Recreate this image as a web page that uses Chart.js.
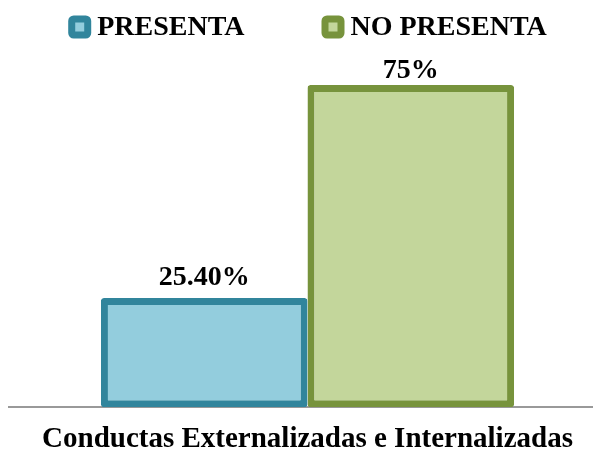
<!DOCTYPE html>
<html>
<head>
<meta charset="utf-8">
<script src="https://cdn.jsdelivr.net/npm/chart.js@4.4.1/dist/chart.umd.min.js"></script>
<style>
  html, body { margin: 0; padding: 0; background: #fff; overflow: hidden; }
</style>
</head>
<body>
<canvas id="bar-chart" width="606" height="453"></canvas>
<script>
// categories and series
const categories = ['Conductas Externalizadas e Internalizadas'];
const seriesNames = ['PRESENTA', 'NO PRESENTA'];
const seriesValues = [[25.40], [75]];
const seriesDecimals = [2, 0];
const fillColors = ['#93CDDD', '#C3D69B'];
const lineColors = ['#31859C', '#77933C'];

const serif = "'Liberation Serif', 'Times New Roman', serif";

// value labels above each bar
const labelGaps = [13, 7];
const barValueLabels = {
  id: 'barValueLabels',
  afterDraw(chart) {
    const ctx = chart.ctx;
    ctx.save();
    ctx.font = 'bold 28px ' + serif;
    ctx.fillStyle = '#000';
    ctx.textAlign = 'center';
    ctx.textBaseline = 'alphabetic';
    chart.data.datasets.forEach((ds, i) => {
      chart.getDatasetMeta(i).data.forEach((bar, j) => {
        const txt = ds.data[j].toFixed(seriesDecimals[i]) + '%';
        ctx.fillText(txt, bar.x, bar.y - labelGaps[i]);
      });
    });
    ctx.restore();
  }
};

// one-row legend across the top
const topLegend = {
  id: 'topLegend',
  afterDraw(chart) {
    const ctx = chart.ctx;
    const box = 16, line = 7, textGap = 6, itemGap = 77, cy = 27;
    ctx.save();
    ctx.font = 'bold 28px ' + serif;
    const items = chart.data.datasets.map(ds => ({
      ds, w: ctx.measureText(ds.label).width
    }));
    const full = box + line;
    let total = items.reduce((s, it) => s + full + textGap + it.w, 0) + itemGap * (items.length - 1);
    const mid = (chart.chartArea.left + chart.chartArea.right) / 2;
    let x = mid - total / 2;
    items.forEach(it => {
      ctx.beginPath();
      ctx.roundRect(x + line / 2, cy - box / 2, box, box, 2);
      ctx.fillStyle = it.ds.backgroundColor;
      ctx.fill();
      ctx.lineWidth = line;
      ctx.strokeStyle = it.ds.borderColor;
      ctx.stroke();
      ctx.fillStyle = '#000';
      ctx.textAlign = 'left';
      ctx.textBaseline = 'middle';
      ctx.fillText(it.ds.label, x + full + textGap, cy + 1);
      x += full + textGap + it.w + itemGap;
    });
    ctx.restore();
  }
};

const ctx = document.getElementById('bar-chart').getContext('2d');
new Chart(ctx, {
  type: 'bar',
  data: {
    labels: categories,
    datasets: seriesNames.map((name, i) => ({
      label: name,
      data: seriesValues[i],
      backgroundColor: fillColors[i],
      borderColor: lineColors[i],
      borderWidth: 7,
      borderRadius: 3,
      borderSkipped: false,
      barPercentage: 1,
      categoryPercentage: 0.692
    }))
  },
  options: {
    responsive: false,
    animation: false,
    layout: {
      padding: { top: 63.6, left: 9, right: 0, bottom: -11 }
    },
    plugins: {
      legend: { display: false },
      tooltip: { enabled: false }
    },
    scales: {
      y: {
        display: false,
        min: 0,
        max: 80
      },
      x: {
        z: 1,
        grid: { display: false },
        border: { display: true, color: '#999', width: 2 },
        ticks: {
          color: '#000',
          padding: 7,
          font: { family: serif, size: 29, weight: 'bold' }
        }
      }
    }
  },
  plugins: [barValueLabels, topLegend]
});
</script>
</body>
</html>
